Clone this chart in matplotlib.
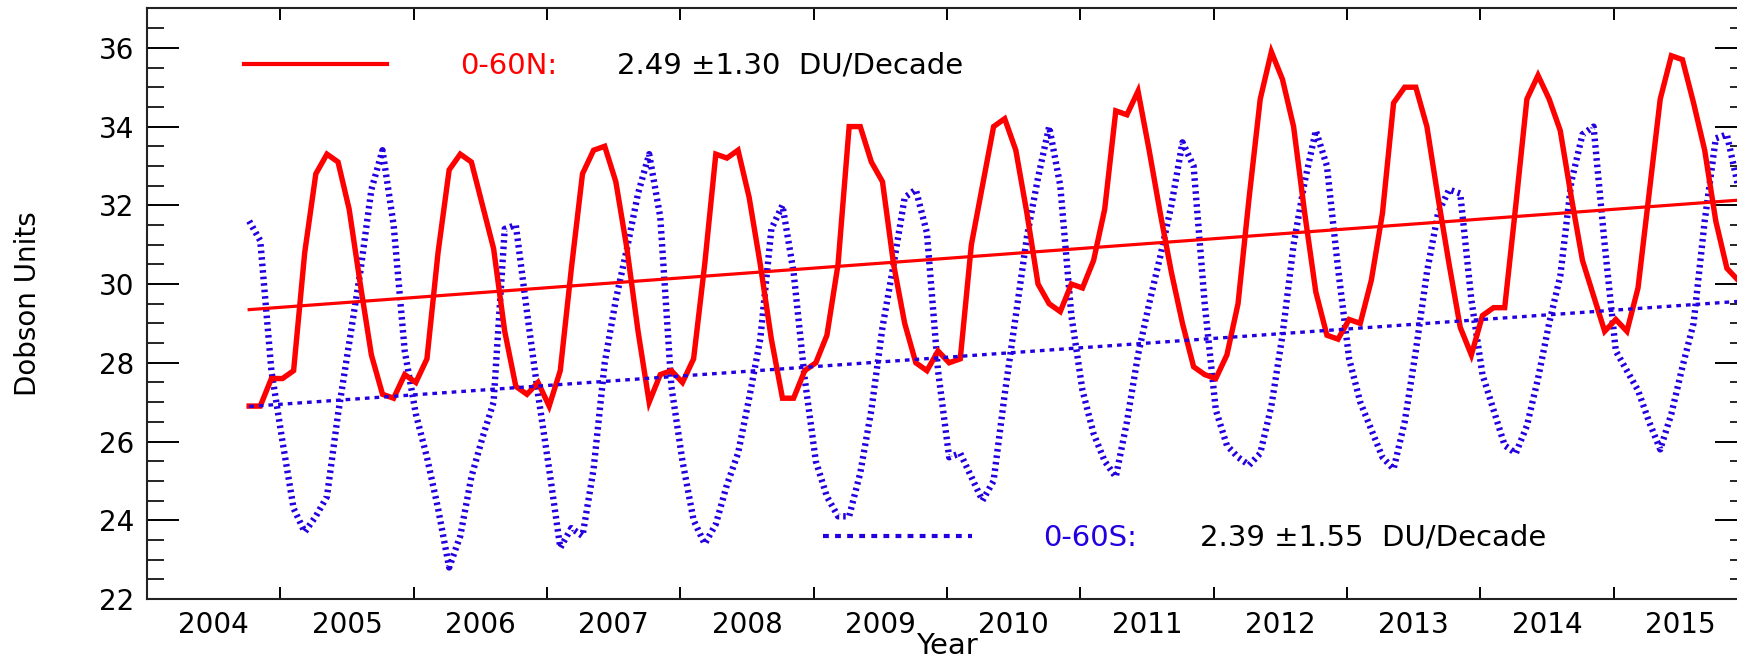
import numpy as np
import matplotlib
matplotlib.use("Agg")
import matplotlib.pyplot as plt
from matplotlib.lines import Line2D
from matplotlib.ticker import MultipleLocator, NullFormatter

# monthly tropospheric ozone, Oct 2004 .. Dec 2015 (DU)
start_year, start_month = 2004, 10
north = [26.9, 26.9, 27.6,
         27.6, 27.8, 30.8, 32.8, 33.3, 33.1, 31.9, 30.0, 28.2, 27.2, 27.1, 27.7,
         27.5, 28.1, 30.8, 32.9, 33.3, 33.1, 32.0, 30.9, 28.8, 27.4, 27.2, 27.5,
         26.9, 27.8, 30.4, 32.8, 33.4, 33.5, 32.6, 30.9, 28.8, 27.0, 27.7, 27.8,
         27.5, 28.1, 30.5, 33.3, 33.2, 33.4, 32.2, 30.5, 28.6, 27.1, 27.1, 27.8,
         28.0, 28.7, 30.5, 34.0, 34.0, 33.1, 32.6, 30.5, 29.0, 28.0, 27.8, 28.3,
         28.0, 28.1, 31.0, 32.5, 34.0, 34.2, 33.4, 31.8, 30.0, 29.5, 29.3, 30.0,
         29.9, 30.6, 31.9, 34.4, 34.3, 34.9, 33.4, 31.8, 30.3, 29.0, 27.9, 27.7,
         27.6, 28.2, 29.5, 32.2, 34.7, 35.9, 35.2, 34.0, 31.8, 29.8, 28.7, 28.6,
         29.1, 29.0, 30.1, 31.8, 34.6, 35.0, 35.0, 34.0, 32.2, 30.5, 28.9, 28.2,
         29.2, 29.4, 29.4, 32.0, 34.7, 35.3, 34.7, 33.9, 32.2, 30.6, 29.7, 28.8,
         29.1, 28.8, 29.9, 32.3, 34.7, 35.8, 35.7, 34.6, 33.4, 31.6, 30.4, 30.1]
south = [31.6, 31.1, 27.8,
         26.0, 24.3, 23.7, 24.1, 24.6, 26.7, 28.5, 30.3, 32.4, 33.4, 31.5, 28.3,
         26.7, 25.6, 24.3, 22.8, 23.6, 25.1, 26.1, 27.0, 31.4, 31.5, 29.3, 27.2,
         25.3, 23.3, 23.8, 23.6, 25.3, 28.0, 29.6, 30.9, 32.3, 33.3, 31.7, 27.4,
         25.5, 24.0, 23.4, 23.9, 24.9, 25.7, 27.1, 28.6, 31.4, 32.0, 30.3, 27.6,
         25.5, 24.6, 24.1, 24.1, 25.2, 26.8, 28.9, 30.5, 32.2, 32.4, 31.3, 27.8,
         25.6, 25.7, 25.1, 24.5, 25.0, 27.2, 29.2, 31.2, 32.7, 34.0, 32.5, 29.2,
         27.3, 26.2, 25.5, 25.1, 26.5, 28.2, 29.5, 30.7, 32.0, 33.6, 33.0, 29.5,
         26.8, 25.9, 25.6, 25.4, 25.7, 26.9, 28.7, 31.0, 32.6, 33.9, 33.0, 30.4,
         28.1, 27.0, 26.3, 25.6, 25.3, 26.5, 28.3, 30.3, 31.8, 32.4, 32.3, 29.6,
         27.7, 26.8, 25.9, 25.7, 26.4, 27.6, 29.0, 30.2, 32.6, 33.8, 34.0, 31.0,
         28.3, 27.8, 27.3, 26.5, 25.8, 26.7, 27.9, 29.0, 31.6, 33.7, 33.8, 32.5]

# linear trends (DU/decade) and their start values
north_slope, north_err, north_start = 2.49, 1.30, 29.35
south_slope, south_err, south_start = 2.39, 1.55, 26.89

years = list(range(2004, 2016))
red = "#ff0000"
blue = "#2200e0"

plt.rcParams["font.family"] = "DejaVu Sans"

t = start_year + (start_month - 1 + 0.2 + np.arange(len(north))) / 12.0
t_ends = np.array([t[0], t[-1]])

fig = plt.figure(figsize=(17.37, 6.58), dpi=100)
ax = fig.add_axes([0.0846, 0.0897, 0.9211, 0.8974])

ax.plot(t, south, color=blue, lw=4.6, linestyle=(0, (0.4, 0.62)), dash_capstyle="butt")
ax.plot(t, north, color=red, lw=3.9, solid_joinstyle="miter")
ax.plot(t_ends, south_start + south_slope / 10 * (t_ends - t[0]), color=blue, lw=2.4,
        linestyle=(0, (1.4, 1.5)), dash_capstyle="butt")
ax.plot(t_ends, north_start + north_slope / 10 * (t_ends - t[0]), color=red, lw=2.3)

ax.set_xlim(2004, 2016)
ax.set_ylim(22, 37)

# year boundaries get the ticks, the labels sit mid-year
ax.set_xticks(range(2004, 2017))
ax.xaxis.set_major_formatter(NullFormatter())
ax.set_xticks([y + 0.5 for y in years], minor=True)
ax.set_xticklabels([str(y) for y in years], minor=True)
ax.tick_params(axis="x", which="major", direction="in", length=8.6, width=1.4,
               top=True, bottom=True)
ax.tick_params(axis="x", which="minor", length=0, labelsize=20, pad=8.5)

ax.yaxis.set_major_locator(MultipleLocator(2))
ax.yaxis.set_minor_locator(MultipleLocator(0.5))
ax.tick_params(axis="y", which="major", direction="in", length=23, width=1.4,
               left=True, right=True, labelsize=20, pad=9)
ax.tick_params(axis="y", which="minor", direction="in", length=12, width=1.2,
               left=True, right=True)

for sp in ax.spines.values():
    sp.set_linewidth(1.5)
    sp.set_color("#222222")

ax.set_xlabel("Year", fontsize=21, va="center")
ax.xaxis.set_label_coords(0.5, -0.0800)
ax.set_ylabel("Dobson Units", fontsize=20, va="center",
              family=["Liberation Sans Narrow", "DejaVu Sans"])
ax.yaxis.set_label_coords(-0.0744, 0.501)

# legends: coloured region name, trend text in black
leg_n = ax.legend(handles=[Line2D([], [], color=red, lw=3.0)], labels=["0-60N:"],
                  loc="center left", bbox_to_anchor=(0.0606, 0.903), frameon=False,
                  fontsize=21, handlelength=4.9, handletextpad=2.5,
                  borderpad=0, borderaxespad=0)
leg_n.get_texts()[0].set_color(red)
ax.add_artist(leg_n)
leg_s = ax.legend(handles=[Line2D([], [], color=blue, lw=3.0, linestyle=(0, (1.4, 1.5)),
                                  dash_capstyle="butt")],
                  labels=["0-60S:"], loc="center left", bbox_to_anchor=(0.4225, 0.1033),
                  frameon=False, fontsize=21, handlelength=5.1, handletextpad=2.45,
                  borderpad=0, borderaxespad=0)
leg_s.get_texts()[0].set_color(blue)

ax.text(0.2935, 0.903, f"{north_slope:.2f} \u00b1{north_err:.2f}  DU/Decade",
        transform=ax.transAxes, fontsize=21, va="center", ha="left")
ax.text(0.6580, 0.1033, f"{south_slope:.2f} \u00b1{south_err:.2f}  DU/Decade",
        transform=ax.transAxes, fontsize=21, va="center", ha="left")

fig.savefig("out.png", dpi=100)
